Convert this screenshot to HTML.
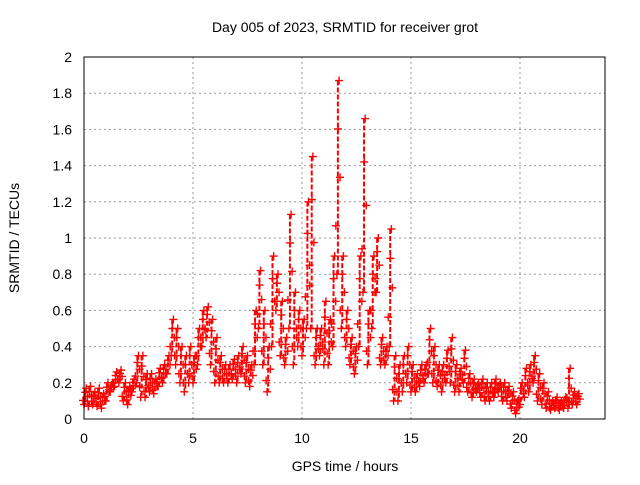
<!DOCTYPE html>
<html><head><meta charset="utf-8"><style>
body{margin:0;background:#fff;width:640px;height:480px;overflow:hidden}
svg text{font-family:"Liberation Sans",sans-serif;font-size:14px;fill:#000}
</style></head><body>
<svg id="chart" width="640" height="480">
<text x="345" y="32" text-anchor="middle">Day 005 of 2023, SRMTID for receiver grot</text>
<g id="grid"></g><g id="ticks"></g><g id="marks"></g>
<rect x="84" y="57" width="521" height="362" fill="none" stroke="#000" stroke-width="1"/>
<text x="345" y="471" text-anchor="middle">GPS time / hours</text>
<text transform="translate(19,238) rotate(-90)" text-anchor="middle">SRMTID / TECUs</text>
</svg>
<script>
const xTicks=[0,5,10,15,20];
const yTicks=[0,0.2,0.4,0.6,0.8,1,1.2,1.4,1.6,1.8,2];
const stepHours=0.2;
const lows=[0.08,0.07,0.08,0.07,0.06,0.1,0.15,0.18,0.2,0.1,0.08,0.15,0.2,0.12,0.12,0.15,0.14,0.18,0.2,0.25,0.35,0.3,0.2,0.15,0.2,0.2,0.3,0.4,0.45,0.3,0.2,0.2,0.2,0.2,0.22,0.2,0.25,0.2,0.18,0.3,0.5,0.3,0.15,0.4,0.6,0.35,0.3,0.5,0.3,0.4,0.35,0.5,0.5,0.3,0.35,0.3,0.3,0.4,0.8,0.5,0.4,0.3,0.25,0.4,0.7,0.3,0.5,0.7,0.3,0.3,0.4,0.1,0.1,0.15,0.2,0.15,0.15,0.18,0.2,0.25,0.2,0.18,0.15,0.2,0.2,0.15,0.15,0.2,0.15,0.12,0.15,0.12,0.1,0.1,0.12,0.15,0.1,0.1,0.06,0.03,0.08,0.12,0.15,0.2,0.1,0.08,0.06,0.05,0.06,0.05,0.06,0.06,0.08,0.08];
const highs=[0.17,0.18,0.15,0.17,0.14,0.2,0.2,0.26,0.27,0.2,0.18,0.22,0.35,0.35,0.25,0.25,0.22,0.28,0.3,0.35,0.55,0.5,0.4,0.35,0.4,0.35,0.5,0.6,0.62,0.55,0.45,0.35,0.3,0.3,0.33,0.35,0.4,0.35,0.3,0.6,0.82,0.6,0.4,0.9,0.8,0.65,0.45,1.13,0.7,0.6,0.55,1.2,1.45,0.5,0.5,0.65,0.55,0.9,1.87,0.9,0.6,0.45,0.4,0.9,1.66,0.6,0.9,1.0,0.45,0.4,1.05,0.35,0.3,0.35,0.4,0.3,0.25,0.3,0.3,0.5,0.4,0.3,0.3,0.38,0.45,0.3,0.28,0.38,0.25,0.22,0.2,0.22,0.2,0.2,0.22,0.2,0.2,0.18,0.15,0.1,0.2,0.28,0.3,0.35,0.25,0.2,0.15,0.1,0.12,0.1,0.12,0.28,0.15,0.14];
const X=h=>84+h*21.8, Y=v=>419-v*181;
const ns="http://www.w3.org/2000/svg";
function mk(t,a,p){const e=document.createElementNS(ns,t);for(const k in a)e.setAttribute(k,a[k]);p.appendChild(e);return e;}
const grid=document.getElementById('grid'),ticks=document.getElementById('ticks'),marks=document.getElementById('marks');
xTicks.forEach(t=>{
 const g=mk('line',{x1:X(t),x2:X(t),y1:57,y2:419,stroke:'#999','stroke-dasharray':'2,3'},grid);
 
 
 const l=mk('text',{x:X(t),y:443,'text-anchor':'middle'},ticks);l.textContent=t;
 
 
});
yTicks.forEach(t=>{
 const g=mk('line',{x1:84,x2:605,y1:Y(t),y2:Y(t),stroke:'#999','stroke-dasharray':'2,3'},grid);
 
 
 const l=mk('text',{x:72,y:Y(t)+5,'text-anchor':'end'},ticks);l.textContent=t;
 
 
});
function cross(x,y){
 const p=mk('path',{d:`M${x-4},${y}h8M${x},${y-4}v8`,stroke:'#f00','stroke-width':1.4,fill:'none'},marks);
 
 
}
lows.forEach((lo,i)=>{
 const hi=highs[i];
 const x0=X(i*stepHours), x1=X((i+0.5)*stepHours);
 const b=mk('line',{x1:x0+1,x2:x0+1,y1:Y(hi),y2:Y(lo),stroke:'#f00','stroke-width':2,'stroke-dasharray':'5,2'},marks);
 
 
 const m=(lo+hi)/2;
 cross(x0,Y(lo));cross(x1,Y(hi));cross(x1+1,Y(m));cross(x0-1,Y((lo+m)/2));cross(x1-1,Y((hi+m)/2));
});
</script>
</body></html>
